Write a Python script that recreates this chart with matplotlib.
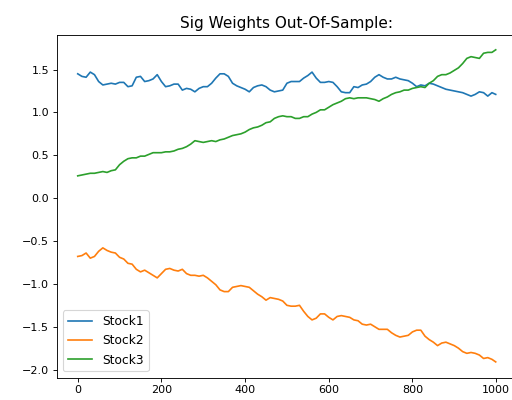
import matplotlib
matplotlib.use("Agg")
import matplotlib.pyplot as plt

# time steps (sampled every 10 steps from the reference)
steps = list(range(0, 1000, 10)) + [999]

stock1 = [1.45, 1.42, 1.41, 1.47, 1.44, 1.36, 1.32, 1.33, 1.34, 1.33,
          1.35, 1.35, 1.30, 1.31, 1.41, 1.42, 1.36, 1.37, 1.39, 1.44,
          1.36, 1.30, 1.31, 1.33, 1.33, 1.26, 1.28, 1.27, 1.24, 1.28,
          1.30, 1.30, 1.34, 1.40, 1.45, 1.45, 1.42, 1.34, 1.31, 1.29,
          1.27, 1.24, 1.29, 1.31, 1.32, 1.30, 1.26, 1.24, 1.25, 1.26,
          1.34, 1.36, 1.36, 1.36, 1.40, 1.43, 1.47, 1.40, 1.35, 1.35,
          1.36, 1.35, 1.30, 1.24, 1.23, 1.23, 1.30, 1.29, 1.32, 1.33,
          1.36, 1.41, 1.44, 1.41, 1.39, 1.39, 1.41, 1.39, 1.38, 1.37,
          1.34, 1.30, 1.32, 1.31, 1.34, 1.33, 1.31, 1.29, 1.27, 1.26,
          1.25, 1.24, 1.23, 1.21, 1.19, 1.21, 1.24, 1.23, 1.19, 1.23, 1.21]

stock2 = [-0.68, -0.67, -0.64, -0.70, -0.68, -0.62, -0.58, -0.61, -0.63, -0.64,
          -0.69, -0.71, -0.76, -0.77, -0.83, -0.86, -0.84, -0.87, -0.90, -0.93,
          -0.88, -0.83, -0.82, -0.84, -0.85, -0.83, -0.88, -0.90, -0.90, -0.91,
          -0.90, -0.93, -0.97, -1.01, -1.07, -1.09, -1.09, -1.04, -1.03, -1.02,
          -1.03, -1.04, -1.08, -1.12, -1.15, -1.19, -1.16, -1.17, -1.18, -1.20,
          -1.25, -1.26, -1.26, -1.25, -1.32, -1.38, -1.42, -1.40, -1.35, -1.35,
          -1.39, -1.42, -1.38, -1.37, -1.38, -1.39, -1.42, -1.43, -1.47, -1.48,
          -1.47, -1.50, -1.53, -1.53, -1.53, -1.57, -1.60, -1.62, -1.61, -1.60,
          -1.56, -1.54, -1.54, -1.61, -1.65, -1.68, -1.72, -1.69, -1.68, -1.70,
          -1.72, -1.75, -1.79, -1.81, -1.80, -1.81, -1.83, -1.87, -1.86, -1.88, -1.91]

stock3 = [0.26, 0.27, 0.28, 0.29, 0.29, 0.30, 0.31, 0.30, 0.32, 0.33,
          0.39, 0.43, 0.46, 0.47, 0.47, 0.49, 0.49, 0.51, 0.53, 0.53,
          0.53, 0.54, 0.54, 0.55, 0.57, 0.58, 0.60, 0.63, 0.67, 0.66,
          0.65, 0.66, 0.67, 0.66, 0.68, 0.69, 0.71, 0.73, 0.74, 0.75,
          0.77, 0.80, 0.82, 0.83, 0.85, 0.88, 0.89, 0.93, 0.95, 0.96,
          0.95, 0.95, 0.93, 0.93, 0.95, 0.95, 0.98, 1.00, 1.03, 1.03,
          1.06, 1.09, 1.11, 1.13, 1.16, 1.17, 1.16, 1.17, 1.17, 1.17,
          1.16, 1.15, 1.13, 1.16, 1.18, 1.21, 1.23, 1.24, 1.26, 1.26,
          1.28, 1.29, 1.30, 1.29, 1.34, 1.37, 1.42, 1.44, 1.44, 1.46,
          1.49, 1.52, 1.57, 1.63, 1.65, 1.64, 1.63, 1.69, 1.70, 1.70, 1.73]

fig = plt.figure(figsize=(6.4, 5.0), dpi=80)
ax = fig.add_axes([0.111, 0.056, 0.898, 0.857])

ax.plot(steps, stock1, label='Stock1')
ax.plot(steps, stock2, label='Stock2')
ax.plot(steps, stock3, label='Stock3')

ax.set_ylim(-2.093, 1.905)
ax.set_title('Sig Weights Out-Of-Sample:', fontsize=13.7)
ax.legend(loc='lower left', fontsize=11)

fig.savefig('out.png', dpi=80)
